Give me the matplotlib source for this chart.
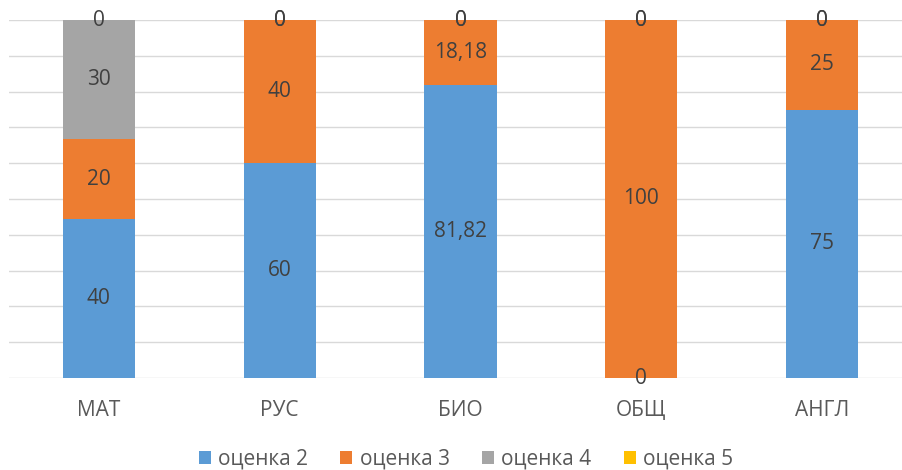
import numpy as np
import matplotlib.pyplot as plt

plt.rcParams['font.family'] = ['Open Sans', 'DejaVu Sans']

subjects = ['МАТ', 'РУС', 'БИО', 'ОБЩ', 'АНГЛ']
series_names = ['оценка 2', 'оценка 3', 'оценка 4', 'оценка 5']
grade2 = [40, 60, 81.82, 0, 75]
grade3 = [20, 40, 18.18, 100, 25]
grade4 = [30, 0, 0, 0, 0]
grade5 = [0, 0, 0, 0, 0]
colors = ['#5B9BD5', '#ED7D31', '#A5A5A5', '#FFC000']

data = np.array([grade2, grade3, grade4, grade5], dtype=float)
totals = data.sum(axis=0)
shares = data / totals * 100

fig = plt.figure(figsize=(9.02, 4.70), dpi=100)
ax = fig.add_axes([8.5 / 902, 92 / 470, 904 / 902, 358 / 470])

x = np.arange(len(subjects))
bottom = np.zeros(len(subjects))
for vals, pct, name, c in zip(data, shares, series_names, colors):
    ax.bar(x, pct, 0.4, bottom=bottom, color=c, label=name, zorder=2)
    for xi, v, b, p in zip(x, vals, bottom, pct):
        txt = ('%g' % v).replace('.', ',')
        ax.text(xi, b + p / 2, txt, ha='center', va='center',
                fontsize=15, color='#404040', zorder=3)
    bottom += pct

ax.set_xlim(-0.5, 4.5)
ax.set_ylim(0, 100)
ax.set_yticks(np.arange(0, 101, 10))
ax.yaxis.grid(True, color='#D9D9D9', linewidth=1)
ax.tick_params(axis='y', left=False, labelleft=False)
ax.tick_params(axis='x', bottom=False, labelsize=15, labelcolor='#595959', pad=12)
ax.set_xticks(x)
ax.set_xticklabels(subjects)
for s in ax.spines.values():
    s.set_visible(False)

fig.legend(loc='center', bbox_to_anchor=(466 / 902, 1 - 459 / 470), ncol=4,
           frameon=False, fontsize=15, handlelength=0.58, handleheight=0.58,
           handletextpad=0.35, columnspacing=1.55, labelcolor='#595959')

plt.savefig('out.png', dpi=100)
